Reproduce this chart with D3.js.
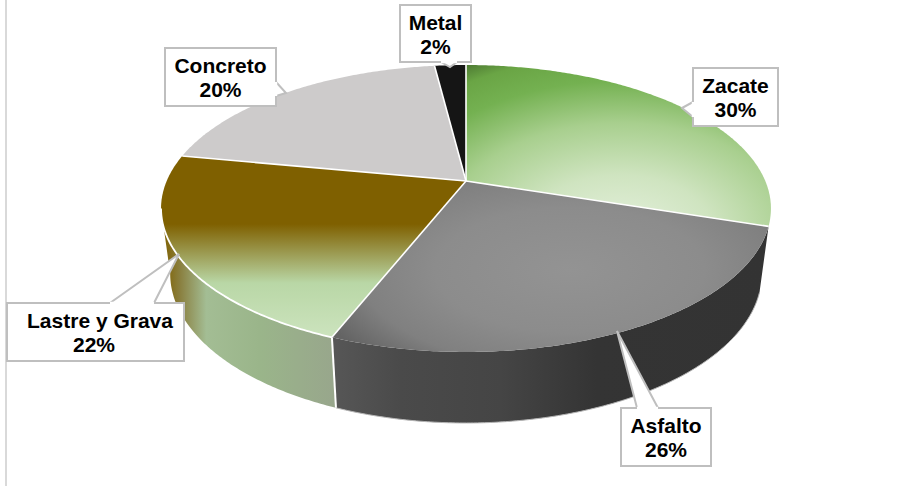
<!DOCTYPE html>
<html>
<head>
<meta charset="utf-8">
<script src="https://cdn.jsdelivr.net/npm/d3@7"></script>
<style>
  html, body { margin: 0; padding: 0; background: #fff; }
  svg { display: block; }
  text { font-family: "Liberation Sans", Arial, sans-serif; font-weight: 700; font-size: 21px; fill: #000; }
</style>
</head>
<body>
<div id="chart"></div>
<script>
// Road surface shares
const categories = ["Zacate", "Asfalto", "Lastre y Grava", "Concreto", "Metal"];
const shares = [30, 26, 22, 20, 2];
const tickLabels = ["30%", "26%", "22%", "20%", "2%"];

const width = 915, height = 486;

// Tilted-disc projection: a point on the unit circle is mapped with a single
// vanishing term so the pie's centre sits above the middle of the ellipse.
const apex = { x: 466, y: 181 };
const disc = { a: 299.3, b: 138.2, k: 0.1916 };
const sx = d3.scaleLinear().domain([-1, 1]).range([apex.x - disc.a, apex.x + disc.a]);
const sy = d3.scaleLinear().domain([-1, 1]).range([apex.y - disc.b, apex.y + disc.b]);
function topPoint(theta) {
  const X = Math.sin(theta), Y = -Math.cos(theta);
  const w = 1 - disc.k * Y;
  return [sx(X / w), sy(Y / w)];
}
// Rim of the underside of the disc
const wall = { xScale: 0.97, yScale: 1.04, yBase: 292, yRef: 226 };
function bottomPoint(theta) {
  const [x, y] = topPoint(theta);
  return [apex.x + (x - apex.x) * wall.xScale, wall.yBase + (y - wall.yRef) * wall.yScale];
}
// Angle at which the disc reaches its leftmost extent; the wall silhouette ends there
const leftExtent = 2 * Math.PI - Math.acos(-disc.k);

const pie = d3.pie().sort(null).value(d => d)(shares);
const line = d3.line();
function arcPoints(fn, a0, a1) {
  const n = Math.max(2, Math.ceil((a1 - a0) / 0.01));
  return d3.range(n + 1).map(i => fn(a0 + (a1 - a0) * i / n));
}

const svg = d3.select("#chart").append("svg").attr("width", width).attr("height", height);

// Gradients
const defs = svg.append("defs");
function addStops(g, stops) {
  stops.forEach(([o, c]) => g.append("stop").attr("offset", o).attr("stop-color", c));
}
addStops(defs.append("radialGradient").attr("id", "topZacate")
  .attr("gradientUnits", "userSpaceOnUse").attr("cx", 0).attr("cy", 0).attr("r", 1)
  .attr("gradientTransform", "translate(620,235) scale(315,200)"),
  [[0, "#e6f1df"], [0.3, "#cfe4c0"], [0.56, "#a8cf8e"], [0.77, "#74b151"], [0.9, "#6aa545"], [1, "#466f2e"]]);
addStops(defs.append("radialGradient").attr("id", "topAsfalto")
  .attr("gradientUnits", "userSpaceOnUse").attr("cx", 0).attr("cy", 0).attr("r", 1)
  .attr("gradientTransform", "translate(570,270) scale(270,125)"),
  [[0, "#939393"], [0.5, "#8c8c8c"], [0.78, "#808080"], [1, "#646464"]]);
addStops(defs.append("linearGradient").attr("id", "topLastre")
  .attr("gradientUnits", "userSpaceOnUse").attr("x1", 0).attr("x2", 0).attr("y1", 150).attr("y2", 340),
  [[0, "#7f6000"], [0.39, "#7f6000"], [0.7, "#b9d7a6"], [1, "#cde4bf"]]);
addStops(defs.append("linearGradient").attr("id", "sideLastre")
  .attr("gradientUnits", "userSpaceOnUse").attr("x1", 163).attr("x2", 336).attr("y1", 0).attr("y2", 0),
  [[0, "#7f6000"], [0.1, "#8a8040"], [0.25, "#a3bd94"], [0.56, "#9ab58a"], [1, "#98a68c"]]);
addStops(defs.append("linearGradient").attr("id", "sideAsfalto")
  .attr("gradientUnits", "userSpaceOnUse").attr("x1", 336).attr("x2", 770).attr("y1", 0).attr("y2", 0),
  [[0, "#565656"], [0.15, "#4a4a4a"], [0.38, "#454545"], [0.6, "#343434"], [1, "#333333"]]);

const topFills = ["url(#topZacate)", "url(#topAsfalto)", "url(#topLastre)", "#cdcbcb", "#151515"];
const sideFills = [null, "url(#sideAsfalto)", "url(#sideLastre)", null, null];

// Plot-area border on the left
svg.append("line").attr("x1", 6).attr("x2", 6).attr("y1", 0).attr("y2", height)
  .attr("stroke", "#d9d9d9").attr("stroke-width", 2);

// Side walls
const sideSlices = pie.filter((d, i) => sideFills[i])
  .map(d => ({ index: d.index, from: d.startAngle, to: Math.min(d.endAngle, leftExtent) }));
svg.append("g").selectAll("path").data(sideSlices).join("path")
  .attr("d", d => {
    const upper = arcPoints(topPoint, d.from, d.to);
    const lower = arcPoints(bottomPoint, d.from, d.to).reverse();
    return line(upper.concat(lower)) + "Z";
  })
  .attr("fill", d => sideFills[d.index]);

// Thin pale edge along the foot of the dark wall
svg.append("path")
  .attr("d", line(arcPoints(bottomPoint, pie[1].startAngle, pie[1].endAngle)))
  .attr("fill", "none").attr("stroke", "#b5b5b5").attr("stroke-width", 1);

// White seam between the two visible walls
const seamAngle = pie[2].startAngle;
svg.append("path")
  .attr("d", line([topPoint(seamAngle), bottomPoint(seamAngle)]))
  .attr("stroke", "#fff").attr("stroke-width", 2).attr("fill", "none");

// Top faces
svg.append("g").selectAll("path").data(pie).join("path")
  .attr("d", d => line([[apex.x, apex.y]].concat(arcPoints(topPoint, d.startAngle, d.endAngle))) + "Z")
  .attr("fill", (d, i) => topFills[i]);

// White radial seams, plus the bright rim of the Lastre slice
svg.append("g").selectAll("path").data(pie).join("path")
  .attr("d", d => line([[apex.x, apex.y], topPoint(d.startAngle)]))
  .attr("fill", "none").attr("stroke", "#fff").attr("stroke-width", 1.6);
svg.append("path")
  .attr("d", line(arcPoints(topPoint, pie[2].startAngle, leftExtent)))
  .attr("fill", "none").attr("stroke", "#fff").attr("stroke-width", 1.8);

// Callouts: box plus pointer wedge
const boxes = [
  { x: 693, y: 68, w: 85, h: 58, tip: [682, 108], base: [[693, 102], [693, 117]], nameX: 735.5, pctX: 735.5 },
  { x: 621, y: 408, w: 90, h: 58, tip: [617, 331], base: [[637, 408], [658, 408]], nameX: 666, pctX: 666 },
  { x: 7, y: 303, w: 177, h: 58, tip: [179, 254], base: [[110, 303], [154, 303]], nameX: 100, pctX: 94 },
  { x: 165, y: 48, w: 111, h: 58, tip: [286, 93], base: [[276, 82], [276, 96]], nameX: 220.5, pctX: 220.5 },
  { x: 400, y: 5, w: 71, h: 57, tip: [450, 67], base: [[441, 62], [457, 62]], nameX: 435.5, pctX: 435.5 }
];
const callout = svg.append("g").selectAll("g").data(boxes).join("g");
callout.append("path")
  .attr("d", d => line([d.base[0], d.tip, d.base[1]]))
  .attr("fill", "#fff").attr("stroke", "#bfbfbf").attr("stroke-width", 2);
callout.append("rect")
  .attr("x", d => d.x).attr("y", d => d.y).attr("width", d => d.w).attr("height", d => d.h)
  .attr("fill", "#fff").attr("stroke", "#bfbfbf").attr("stroke-width", 2);
// Opens the box edge where the pointer joins it
callout.append("path")
  .attr("d", d => line(d.base))
  .attr("stroke", "#fff").attr("stroke-width", 2.4);
callout.append("text").attr("text-anchor", "middle")
  .attr("x", d => d.nameX).attr("y", d => d.y + 24.5)
  .text((d, i) => categories[i]);
callout.append("text").attr("text-anchor", "middle")
  .attr("x", d => d.pctX).attr("y", d => d.y + 48.5)
  .text((d, i) => tickLabels[i]);
</script>
</body>
</html>
